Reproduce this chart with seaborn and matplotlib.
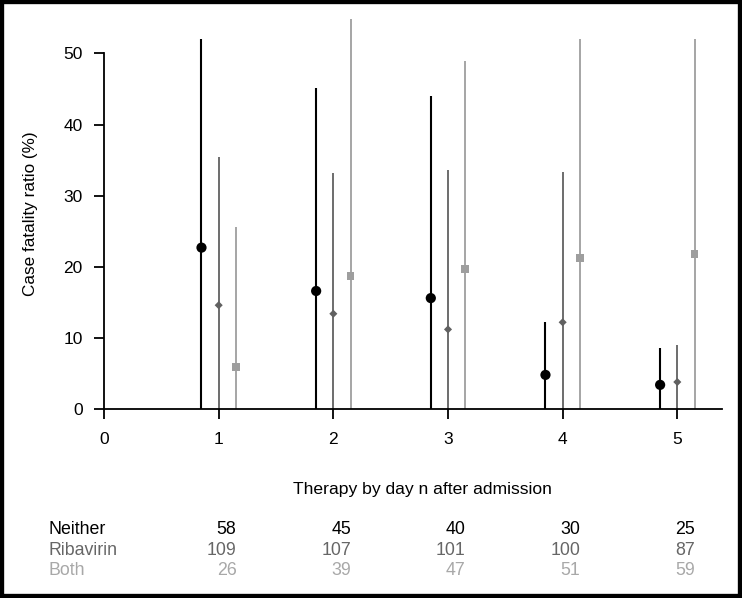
import matplotlib
matplotlib.use("Agg")
import matplotlib.pyplot as plt
from matplotlib.patches import Rectangle
import numpy as np
import pandas as pd
import seaborn as sns

# %%
# values
days = [1, 2, 3, 4, 5]
groups = ["Neither", "Ribavirin", "Both"]
cfr_neither = [22.7, 16.6, 15.6, 4.8, 3.4]
cfr_ribavirin = [14.6, 13.4, 11.2, 12.2, 3.8]
cfr_both = [5.9, 18.7, 19.7, 21.2, 21.8]
upper_neither = [52.1, 45.1, 44.0, 12.3, 8.6]
upper_ribavirin = [35.5, 33.2, 33.6, 33.3, 9.0]
upper_both = [25.6, 54.8, 48.9, 52.1, 52.1]
lower_neither = [0, 0, 0, 0, 0]
lower_ribavirin = [0, 0, 0, 0, 0]
lower_both = [0, 0, 0, 0, 0]
n_neither = [58, 45, 40, 30, 25]
n_ribavirin = [109, 107, 101, 100, 87]
n_both = [26, 39, 47, 51, 59]

# %%
offsets = {"Neither": -0.15, "Ribavirin": 0.0, "Both": 0.15}
colors = {"Neither": "#000000", "Ribavirin": "#616161", "Both": "#9e9e9e"}
text_colors = {"Neither": "#000000", "Ribavirin": "#666666", "Both": "#a8a8a8"}
markers = {"Neither": "o", "Ribavirin": "D", "Both": "s"}
sizes = {"Neither": 54, "Ribavirin": 17, "Both": 32}
lws = {"Neither": 1.5, "Ribavirin": 1.3, "Both": 1.3}

df = pd.DataFrame({
    "day": days * 3,
    "group": [g for g in groups for _ in days],
    "cfr": cfr_neither + cfr_ribavirin + cfr_both,
    "lo": lower_neither + lower_ribavirin + lower_both,
    "hi": upper_neither + upper_ribavirin + upper_both,
    "n": n_neither + n_ribavirin + n_both,
})
df["xpos"] = df["day"] + df["group"].map(offsets)

# %%
sns.set_style("ticks")
plt.rcParams["font.family"] = ["Liberation Sans", "DejaVu Sans"]
plt.rcParams["text.color"] = "black"
plt.rcParams["axes.labelcolor"] = "black"

fig = plt.figure(figsize=(7.42, 5.98), dpi=100)
ax = fig.add_axes([0.1402, 0.316, 0.8329, 0.654])

for g in groups:
    sub = df[df["group"] == g]
    ax.vlines(sub["xpos"], sub["lo"], sub["hi"], color=colors[g],
              lw=lws[g], zorder=2)
    sns.scatterplot(data=sub, x="xpos", y="cfr", ax=ax, marker=markers[g],
                    s=sizes[g], color=colors[g], edgecolor="none",
                    linewidth=0, zorder=3, legend=False)

ax.set_xlim(0, 5.39)
ax.set_ylim(0, 55)
ax.set_xticks([0] + days)
ax.set_yticks([0, 10, 20, 30, 40, 50])
ax.tick_params(axis="both", labelsize=12.5, length=7.5, width=1.3,
               color="black", labelcolor="black")
ax.tick_params(axis="x", pad=9)
ax.tick_params(axis="y", pad=8)
sns.despine(ax=ax)
ax.spines["left"].set_bounds(0, 50)
for s in ["left", "bottom"]:
    ax.spines[s].set_linewidth(1.3)
    ax.spines[s].set_color("black")
ax.spines["bottom"].set_zorder(4)
ax.set_xlabel("")
ax.set_ylabel("Case fatality ratio (%)", fontsize=12.3, labelpad=18,
              color="black")

# x axis title and the table of patient numbers below the axis
trans = ax.get_xaxis_transform()
ax.text(2.78, -0.205, "Therapy by day n after admission", transform=trans,
        ha="center", va="center", fontsize=12.6, color="black")
row_y = {"Neither": -0.309, "Ribavirin": -0.361, "Both": -0.412}
for g in groups:
    sub = df[df["group"] == g]
    ax.text(-0.48, row_y[g], g, transform=trans, ha="left", va="center",
            fontsize=12.8, color=text_colors[g], clip_on=False)
    for d, n in zip(sub["day"], sub["n"]):
        ax.text(d + 0.155, row_y[g], str(n), transform=trans, ha="right",
                va="center", fontsize=12.8, color=text_colors[g],
                clip_on=False)

# black frame around the figure
fig.patches.append(Rectangle((0, 0), 1, 1, transform=fig.transFigure,
                             fill=False, edgecolor="black", lw=6,
                             zorder=10))

fig.savefig("out.png", dpi=100, facecolor="white")
